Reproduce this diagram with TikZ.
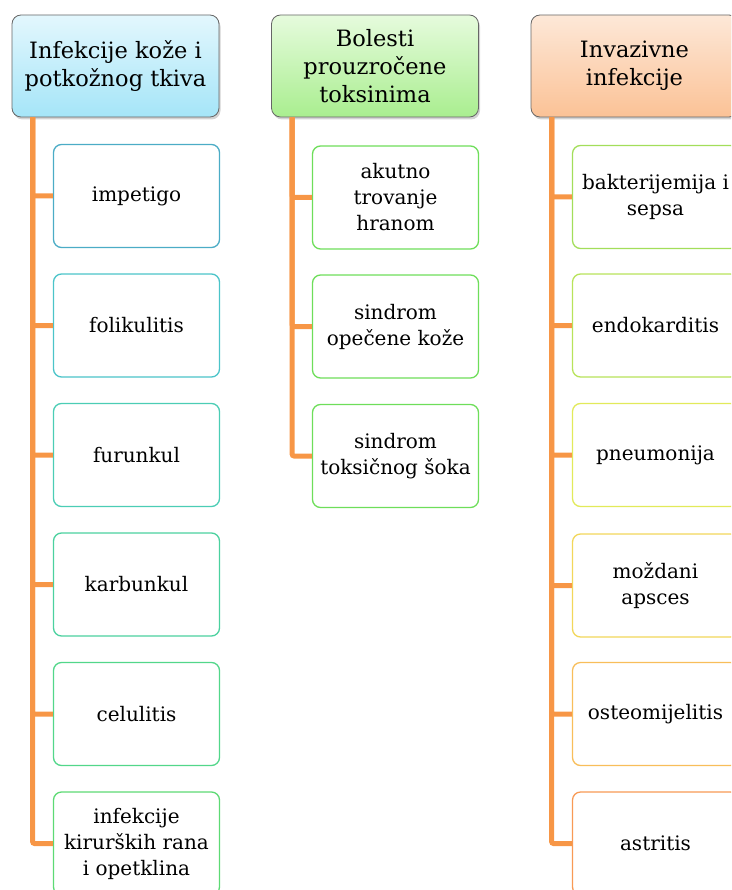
\documentclass[tikz,border=0pt]{standalone}
\usepackage{fontspec}
\setmainfont{DejaVu Serif}
\usetikzlibrary{shadows}
\definecolor{trunkc}{HTML}{F79646}
\definecolor{hb1}{HTML}{A5E5F8}\definecolor{ht1}{HTML}{E3F7FD}
\definecolor{hb2}{HTML}{A9EE8F}\definecolor{ht2}{HTML}{E6FBDD}
\definecolor{hb3}{HTML}{FBC296}\definecolor{ht3}{HTML}{FDE8D8}
\definecolor{a1}{HTML}{4BACC6}\definecolor{a2}{HTML}{4BC4C9}\definecolor{a3}{HTML}{4BCDB5}
\definecolor{a4}{HTML}{4BD19F}\definecolor{a5}{HTML}{52D78A}\definecolor{a6}{HTML}{5DDA74}
\definecolor{b1}{HTML}{6EDE5A}
\definecolor{c1}{HTML}{A3DE5A}\definecolor{c2}{HTML}{B8E35A}\definecolor{c3}{HTML}{E2EA5A}
\definecolor{c4}{HTML}{F2D75A}\definecolor{c5}{HTML}{F8BE5A}\definecolor{c6}{HTML}{F89A55}
\tikzset{
  head/.style={draw=gray!80!black, line width=0.8pt, rounded corners=9pt, minimum width=207pt, minimum height=102pt,
     inner sep=0pt, align=center, font=\fontsize{22.5}{28}\selectfont,
     drop shadow={opacity=0.35, shadow xshift=1.5pt, shadow yshift=-2.5pt}},
  child/.style={draw=#1, fill=white, line width=1.3pt, rounded corners=8pt, minimum width=166pt, minimum height=103pt,
     inner sep=0pt, align=center, font=\fontsize{20}{26}\selectfont},
  trunk/.style={draw=trunkc, line width=5pt, rounded corners=2pt},
}
\begin{document}
\begin{tikzpicture}[x=1pt,y=-1pt]
\useasboundingbox (0,0) rectangle (731,890);
\clip (0,0) rectangle (731,890);
% headers
\node[head, top color=ht1, bottom color=hb1] (h1) at (115.5,66) {Infekcije kože i\\potkožnog tkiva};
\node[head, top color=ht2, bottom color=hb2] (h2) at (375,66) {Bolesti\\prouzročene\\toksinima};
\node[head, top color=ht3, bottom color=hb3] (h3) at (634.5,66) {Invazivne\\infekcije};
% trunk start coordinates
\coordinate (t1) at ([xshift=21pt]h1.south west);
\coordinate (t2) at ([xshift=21pt]h2.south west);
\coordinate (t3) at ([xshift=21pt]h3.south west);
% column 1
\node[child=a1] (a1) at (136.5,196) {impetigo};
\node[child=a2] (a2) at (136.5,325.5) {folikulitis};
\node[child=a3] (a3) at (136.5,455) {furunkul};
\node[child=a4] (a4) at (136.5,584.5) {karbunkul};
\node[child=a5] (a5) at (136.5,714) {celulitis};
\node[child=a6] (a6) at (136.5,843.5) {infekcije\\kirurških rana\\i opetklina};
% column 2
\node[child=b1] (b1) at (395.5,197.5) {akutno\\trovanje\\hranom};
\node[child=b1] (b2) at (395.5,326.5) {sindrom\\opečene kože};
\node[child=b1] (b3) at (395.5,456) {sindrom\\toksičnog šoka};
% column 3
\node[child=c1] (c1) at (655.5,197) {bakterijemija i\\sepsa};
\node[child=c2] (c2) at (655.5,325.5) {endokarditis};
\node[child=c3] (c3) at (655.5,455) {pneumonija};
\node[child=c4] (c4) at (655.5,585.5) {moždani\\apsces};
\node[child=c5] (c5) at (655.5,714) {osteomijelitis};
\node[child=c6] (c6) at (655.5,843.5) {astritis};
% connectors
\foreach \n in {a1,a2,a3,a4,a5,a6} \draw[trunk] (t1) |- (\n.west);
\foreach \n in {b1,b2,b3} \draw[trunk] (t2) |- (\n.west);
\foreach \n in {c1,c2,c3,c4,c5,c6} \draw[trunk] (t3) |- (\n.west);
\end{tikzpicture}
\end{document}
